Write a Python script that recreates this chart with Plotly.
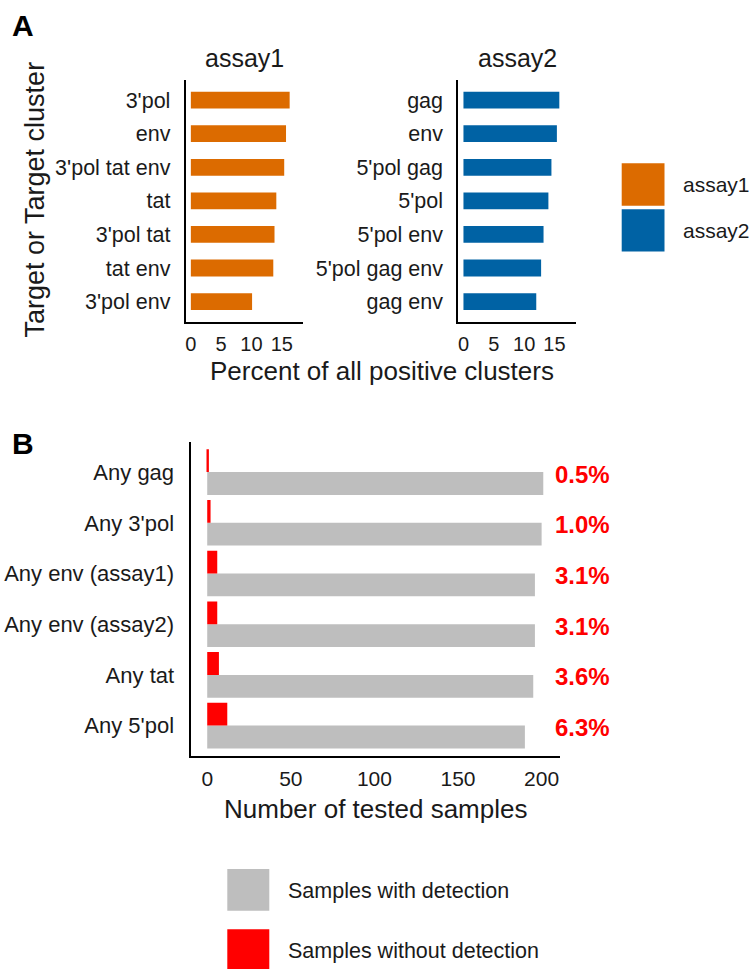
import plotly.graph_objects as go

# ---------------- data ----------------
assay1_targets = ["3'pol", "env", "3'pol tat env", "tat", "3'pol tat", "tat env", "3'pol env"]
assay1_percent = [16.3, 15.7, 15.4, 14.1, 13.8, 13.6, 10.1]

assay2_targets = ["gag", "env", "5'pol gag", "5'pol", "5'pol env", "5'pol gag env", "gag env"]
assay2_percent = [15.8, 15.4, 14.5, 14.0, 13.2, 12.8, 12.0]

b_targets = ["Any gag", "Any 3'pol", "Any env (assay1)", "Any env (assay2)", "Any tat", "Any 5'pol"]
with_detection = [201, 200, 196, 196, 195, 190]
without_detection = [1, 2, 6, 6, 7, 12]
pct_labels = [f"{w / d * 100:.1f}%" for w, d in zip(without_detection, with_detection)]

a_ticks = [0, 5, 10, 15]
b_ticks = [0, 50, 100, 150, 200]

# ---------------- style ----------------
W, H = 749, 969
FONT = "Liberation Sans, Arial, sans-serif"
TXT = "#1a1a1a"
ORANGE = "#DC6B00"
BLUE = "#0062A4"
GRAY = "#BEBEBE"
RED = "#FF0000"


def px(x):
    return x / W


def py(y):
    return 1 - y / H


fig = go.Figure()

fig.add_trace(go.Bar(y=assay1_targets, x=assay1_percent, orientation="h", width=0.5,
                     marker=dict(color=ORANGE, line=dict(width=0)), xaxis="x", yaxis="y",
                     showlegend=False))
fig.add_trace(go.Bar(y=assay2_targets, x=assay2_percent, orientation="h", width=0.5,
                     marker=dict(color=BLUE, line=dict(width=0)), xaxis="x2", yaxis="y2",
                     showlegend=False))
fig.add_trace(go.Bar(y=b_targets, x=with_detection, orientation="h", width=0.45, offset=-0.45,
                     marker=dict(color=GRAY, line=dict(width=0)), xaxis="x3", yaxis="y3",
                     showlegend=False))
fig.add_trace(go.Bar(y=b_targets, x=without_detection, orientation="h", width=0.45, offset=0.0,
                     marker=dict(color=RED, line=dict(width=0)), xaxis="x3", yaxis="y3",
                     showlegend=False))

tickfont = dict(family=FONT, size=20, color=TXT)
catfont_a = dict(family=FONT, size=21.5, color=TXT)
catfont_b = dict(family=FONT, size=22, color=TXT)

common_x = dict(showline=True, linecolor="black", linewidth=2, showgrid=False, zeroline=False,
                ticks="", ticklabelstandoff=3, tickfont=tickfont, fixedrange=True)
common_y = dict(showline=True, linecolor="black", linewidth=2, showgrid=False, zeroline=False,
                ticks="", type="category", fixedrange=True)

a_ydom = [py(321.7), py(80)]
b_ydom = [py(756), py(441.7)]

fig.update_layout(
    width=W, height=H, autosize=False,
    margin=dict(l=0, r=0, t=0, b=0),
    paper_bgcolor="white", plot_bgcolor="white",
    barmode="overlay",
    showlegend=False,
    xaxis=dict(common_x, domain=[px(185.7), px(303.3)], range=[-0.85, 18.55],
               tickvals=a_ticks, anchor="y"),
    yaxis=dict(common_y, domain=a_ydom, range=[-0.6, 6.6], tickfont=catfont_a, ticklabelstandoff=9,
               categoryorder="array", categoryarray=assay1_targets[::-1], anchor="x"),
    xaxis2=dict(common_x, domain=[px(458.3), px(576)], range=[-0.85, 18.55],
                tickvals=a_ticks, anchor="y2"),
    yaxis2=dict(common_y, domain=a_ydom, range=[-0.6, 6.6], tickfont=catfont_a, ticklabelstandoff=9,
                categoryorder="array", categoryarray=assay2_targets[::-1], anchor="x2"),
    xaxis3=dict(common_x, domain=[px(190.5), px(560)], range=[-10, 211],
                tickvals=b_ticks, anchor="y3", tickfont=dict(family=FONT, size=21, color=TXT)),
    yaxis3=dict(common_y, domain=b_ydom, range=[-0.6, 5.6], tickfont=catfont_b, ticklabelstandoff=10,
                categoryorder="array", categoryarray=b_targets[::-1], anchor="x3"),
)

ann = []
# panel letters
ann.append(dict(text="<b>A</b>", x=px(10), y=py(25), xanchor="left", yanchor="middle",
                font=dict(family=FONT, size=30, color="black")))
ann.append(dict(text="<b>B</b>", x=px(10), y=py(443), xanchor="left", yanchor="middle",
                font=dict(family=FONT, size=30, color="black")))
# facet titles
ann.append(dict(text="assay1", x=px(244.5), y=py(58), xanchor="center", yanchor="middle",
                font=dict(family=FONT, size=25, color=TXT)))
ann.append(dict(text="assay2", x=px(517), y=py(58), xanchor="center", yanchor="middle",
                font=dict(family=FONT, size=25, color=TXT)))
# axis titles
ann.append(dict(text="Percent of all positive clusters", x=px(381.5), y=py(371),
                xanchor="center", yanchor="middle", font=dict(family=FONT, size=26, color=TXT)))
ann.append(dict(text="Target or Target cluster", x=px(35), y=py(199.5), textangle=-90,
                xanchor="center", yanchor="middle", font=dict(family=FONT, size=27, color=TXT)))
ann.append(dict(text="Number of tested samples", x=px(375), y=py(809),
                xanchor="center", yanchor="middle", font=dict(family=FONT, size=26, color=TXT)))
for a in ann:
    a.update(xref="paper", yref="paper", showarrow=False)

# percent labels in panel B
for cat, lab in zip(b_targets, pct_labels):
    ann.append(dict(text=f"<b>{lab}</b>", xref="paper", x=px(553), yref="y3", y=cat,
                    xanchor="left", yanchor="middle", showarrow=False, yshift=-2,
                    font=dict(family=FONT, size=24, color=RED)))

# legends (drawn keys + labels)
shapes = []
legA = [("assay1", ORANGE, 163.3, 205.7), ("assay2", BLUE, 209.3, 251.5)]
for name, col, y0, y1 in legA:
    shapes.append(dict(type="rect", xref="paper", yref="paper", x0=px(621.7), x1=px(664.5),
                       y0=py(y1), y1=py(y0), fillcolor=col, line=dict(width=0)))
    ann.append(dict(text=name, xref="paper", yref="paper", x=px(681), y=py((y0 + y1) / 2),
                    xanchor="left", yanchor="middle", showarrow=False,
                    font=dict(family=FONT, size=21, color=TXT)))
legB = [("Samples with detection", GRAY, 869, 910.7), ("Samples without detection", RED, 929.3, 971)]
for name, col, y0, y1 in legB:
    shapes.append(dict(type="rect", xref="paper", yref="paper", x0=px(227.3), x1=px(269.3),
                       y0=py(y1), y1=py(y0), fillcolor=col, line=dict(width=0)))
    ann.append(dict(text=name, xref="paper", yref="paper", x=px(286), y=py((y0 + y1) / 2 + 1),
                    xanchor="left", yanchor="middle", showarrow=False,
                    font=dict(family=FONT, size=21.5, color=TXT)))

fig.update_layout(annotations=ann, shapes=shapes)

fig.write_html("out.html")
